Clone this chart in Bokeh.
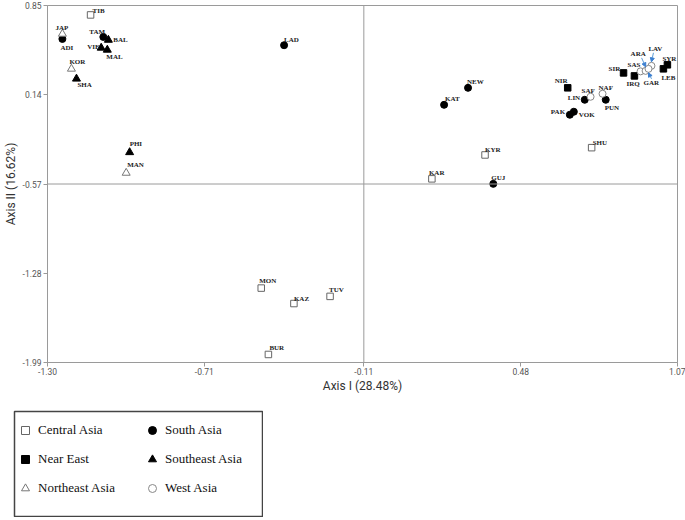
from bokeh.plotting import figure
from bokeh.models import (ColumnDataSource, FixedTicker, Span, Legend, LegendItem,
                          Arrow, NormalHead, Spacer, PrintfTickFormatter)
from bokeh.layouts import column, row
from bokeh.embed import file_html
from bokeh.resources import INLINE
from bokeh.core.properties import value

# ---------------- data ----------------
populations = ["TIB", "JAP", "ADI", "TAM", "BAL", "VIE", "MAL", "KOR", "SHA", "LAD",
               "PHI", "MAN", "MON", "KAZ", "TUV", "BUR", "KAR", "GUJ", "KYR", "SHU",
               "NEW", "KAT", "NIR", "SAF", "LIN", "NAF", "PUN", "PAK", "VOK", "SIR",
               "IRQ", "SAS", "ARA", "LAV", "GAR", "SYR", "LEB"]
axis1 = [-1.138, -1.244, -1.244, -1.090, -1.071, -1.098, -1.075, -1.210, -1.191, -0.410,
         -0.991, -1.004, -0.496, -0.373, -0.237, -0.469, 0.146, 0.377, 0.346, 0.747,
         0.282, 0.192, 0.657, 0.743, 0.721, 0.788, 0.800, 0.665, 0.680, 0.867,
         0.908, 0.931, 0.950, 0.972, 0.961, 1.032, 1.017]
axis2 = [0.775, 0.624, 0.584, 0.600, 0.576, 0.513, 0.497, 0.346, 0.267, 0.534,
         -0.318, -0.482, -1.398, -1.521, -1.464, -1.926, -0.529, -0.569, -0.339, -0.281,
         0.195, 0.060, 0.195, 0.124, 0.100, 0.148, 0.100, -0.019, 0.005, 0.314,
         0.290, 0.326, 0.330, 0.370, 0.346, 0.378, 0.346]
regions = ["Central Asia", "Northeast Asia", "South Asia", "South Asia", "Southeast Asia",
           "Southeast Asia", "Southeast Asia", "Northeast Asia", "Southeast Asia", "South Asia",
           "Southeast Asia", "Northeast Asia", "Central Asia", "Central Asia", "Central Asia",
           "Central Asia", "Central Asia", "South Asia", "Central Asia", "Central Asia",
           "South Asia", "South Asia", "Near East", "West Asia", "South Asia",
           "West Asia", "South Asia", "South Asia", "South Asia", "Near East",
           "Near East", "West Asia", "West Asia", "West Asia", "West Asia",
           "Near East", "Near East"]

x_ticks = [-1.30, -0.71, -0.11, 0.48, 1.07]
y_ticks = [0.85, 0.14, -0.57, -1.28, -1.99]
x_title = "Axis I (28.48%)"
y_title = "Axis II (16.62%)"
legend_left = ["Central Asia", "Near East", "Northeast Asia"]
legend_right = ["South Asia", "Southeast Asia", "West Asia"]
arrow_pops = ["ARA", "LAV", "GAR"]

# ---------------- styles ----------------
styles = {
    "Central Asia":   dict(marker="square",   fill_color="white", line_color="#666666", size=6.5),
    "South Asia":     dict(marker="circle",   fill_color="black", line_color="black",   size=7),
    "Near East":      dict(marker="square",   fill_color="black", line_color="black",   size=6.5),
    "Southeast Asia": dict(marker="triangle", fill_color="black", line_color="black",   size=8),
    "Northeast Asia": dict(marker="triangle", fill_color="white", line_color="#777777", size=8),
    "West Asia":      dict(marker="circle",   fill_color="white", line_color="#888888", size=7),
}
legend_sizes = {"square": 8, "circle": 9, "triangle": 9.5}

# label offsets in pixels (dx, dy: screen, down positive)
label_dx = [2, -7, -2, -14, 5, -14, -1, -2, 1, 0,
            0, 1, -2, 0, -1, 1, -3, -2, 0, 1,
            -1, 1, -13, -9, -17, -4, -1, -19, 5, -15,
            -8, -13, -15, -3, -5, -5, -2]
label_dy = [-4, -6, 9, -5, 0, -1, 7, -7, 6, -5,
            -8, -8, -7, -5, -6, -6, -6, -6, -5, -5,
            -6, -6, -7, -6, -2, -6, 8, -3, 3, -4,
            8, -6, -17, -17, 14, -6, 9]
# arrow offsets in px: start (dx, dy), end (dx, dy)
arrow_off = {"ARA": (-4, -13, 0, -4), "LAV": (2, -13, 0, -4), "GAR": (3, 10, 0, 4)}

W, H = 685, 395
p = figure(width=W, height=H, x_range=(x_ticks[0], x_ticks[-1]),
           y_range=(y_ticks[-1], y_ticks[0]), output_backend="svg",
           toolbar_location=None, min_border_top=5, min_border_right=8,
           min_border_left=2, min_border_bottom=2)
p.xgrid.visible = False
p.ygrid.visible = False
p.outline_line_color = "#9a9a9a"
p.background_fill_color = "white"

for ax, ticks in ((p.xaxis, x_ticks), (p.yaxis, y_ticks)):
    ax.ticker = FixedTicker(ticks=ticks)
    ax.formatter = PrintfTickFormatter(format="%.2f")
    ax.minor_tick_line_color = None
    ax.axis_line_color = "#9a9a9a"
    ax.major_tick_line_color = "#9a9a9a"
    ax.major_tick_in = 0
    ax.major_tick_out = 4
    ax.major_label_text_font = "Roboto"
    ax.major_label_text_font_size = "8.5px"
    ax.major_label_text_color = "#555555"
    ax.axis_label_text_font = "Roboto"
    ax.axis_label_text_font_size = "12px"
    ax.axis_label_text_font_style = "normal"
    ax.axis_label_text_color = "#333333"
p.xaxis.axis_label = x_title
p.yaxis.axis_label = y_title
p.xaxis.major_label_standoff = 1
p.yaxis.major_label_standoff = 2
p.xaxis.axis_label_standoff = 1
p.yaxis.axis_label_standoff = 2

p.add_layout(Span(location=x_ticks[2], dimension="height", line_color="#9a9a9a", line_width=1))
p.add_layout(Span(location=y_ticks[2], dimension="width", line_color="#9a9a9a", line_width=1))

for reg, st in styles.items():
    idx = [i for i, r in enumerate(regions) if r == reg]
    src = ColumnDataSource(dict(x=[axis1[i] for i in idx], y=[axis2[i] for i in idx]))
    p.scatter("x", "y", source=src, marker=st["marker"], size=st["size"],
              fill_color=st["fill_color"], line_color=st["line_color"], line_width=1)

lab_src = ColumnDataSource(dict(x=axis1, y=axis2, t=populations, dx=label_dx, dy=label_dy))
p.text("x", "y", text="t", source=lab_src, x_offset="dx", y_offset="dy",
       text_font=value("Liberation Serif"), text_font_style="bold",
       text_font_size="7px", text_color="#222222",
       text_align="left", text_baseline="middle")

# pixel -> data conversion (approximate frame size)
px_x = (x_ticks[-1] - x_ticks[0]) / 630.0
px_y = (y_ticks[0] - y_ticks[-1]) / 357.0
for name in arrow_pops:
    i = populations.index(name)
    sdx, sdy, edx, edy = arrow_off[name]
    p.add_layout(Arrow(x_start=axis1[i] + sdx * px_x, y_start=axis2[i] - sdy * px_y,
                       x_end=axis1[i] + edx * px_x, y_end=axis2[i] - edy * px_y,
                       line_color="#5b9bd5", line_width=1,
                       end=NormalHead(size=4, fill_color="#3c7fd0", line_color="#3c7fd0")))

# ---------------- legend box ----------------
# ranges far from the data: the renderers exist only to feed the legend glyphs
lf = figure(width=250, height=107, x_range=(100, 101), y_range=(100, 101), output_backend="svg",
            toolbar_location=None, x_axis_location=None, y_axis_location=None,
            min_border=1)
lf.xgrid.visible = False
lf.ygrid.visible = False
lf.outline_line_color = "#444444"
lf.outline_line_width = 1.5

def make_legend(names, xloc):
    items = []
    for reg in names:
        st = styles[reg]
        idx = [i for i, r in enumerate(regions) if r == reg]
        r = lf.scatter(x=[axis1[i] for i in idx], y=[axis2[i] for i in idx],
                       marker=st["marker"], size=legend_sizes[st["marker"]],
                       fill_color=st["fill_color"], line_color=st["line_color"], line_width=1)
        items.append(LegendItem(label=reg, renderers=[r]))
    leg = Legend(items=items, location=(xloc, 18), orientation="vertical",
                 border_line_color=None, background_fill_alpha=0,
                 glyph_width=20, glyph_height=20, spacing=9, padding=0, margin=0,
                 label_standoff=3, label_text_font="Liberation Serif",
                 label_text_font_size="13px", label_text_color="#111111")
    lf.add_layout(leg)

make_legend(legend_left, 1)
make_legend(legend_right, 128)

layout = column(p, Spacer(height=15), row(Spacer(width=13), lf))
open("out.html", "w").write(file_html(layout, INLINE))
